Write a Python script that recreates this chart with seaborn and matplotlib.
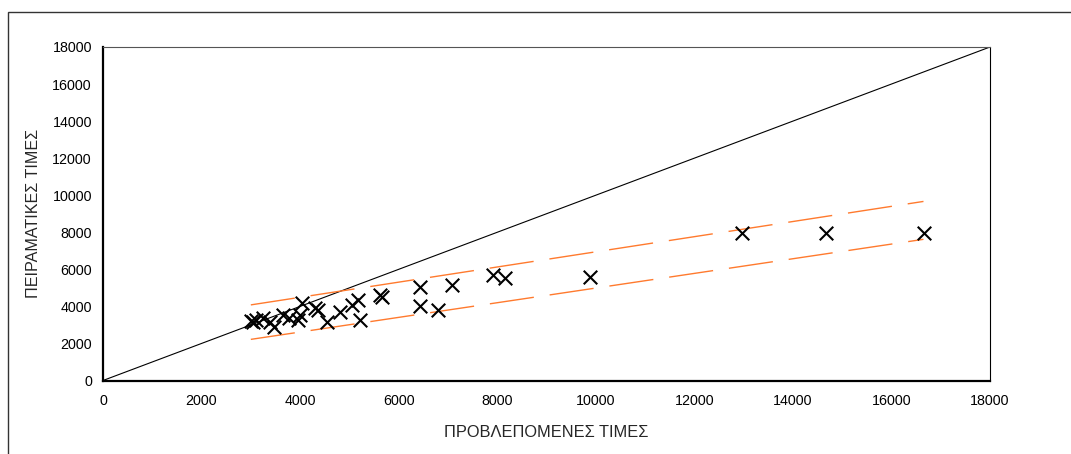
import matplotlib
matplotlib.use("Agg")
import matplotlib.pyplot as plt
from matplotlib.patches import Rectangle
import seaborn as sns
import pandas as pd

# Data
predicted = [3003, 3044, 3104, 3246, 3388, 3470, 3652, 3774, 3957, 3997,
             4038, 4301, 4362, 4545, 4809, 5052, 5174, 5214, 5620, 5661,
             6432, 6432, 6797, 7081, 7919, 8157, 9881, 12959, 14663, 16664]
measured = [3216, 3162, 3270, 3378, 3162, 2892, 3540, 3378, 3270, 3540,
            4189, 3919, 3810, 3162, 3702, 4081, 4351, 3270, 4621, 4513,
            5053, 4027, 3810, 5162, 5702, 5524, 5610, 7956, 7956, 7956]

band_x = [3000, 16650]
upper_band = [4081, 9665]
lower_band = [2220, 7620]
diag = [0, 18000]

xticks = list(range(0, 18001, 2000))
yticks = list(range(0, 18001, 2000))
xlabel = "ΠΡΟΒΛΕΠΟΜΕΝΕΣ ΤΙΜΕΣ"
ylabel = "ΠΕΙΡΑΜΑΤΙΚΕΣ ΤΙΜΕΣ"

sns.set_style("white")
plt.rcParams['font.family'] = ['Liberation Sans', 'DejaVu Sans']

fig = plt.figure(figsize=(10.71, 4.54), dpi=100)
ax = fig.add_axes([103/1071, 1-380.5/454, (990-103)/1071, (380.5-47)/454])

# outer chart border (cropped on right and bottom)
fig.patches.append(Rectangle((8/1071, -0.05), 1.1, 1-12/454+0.05,
                             transform=fig.transFigure, fill=False,
                             edgecolor='#333333', linewidth=1.0))

orange = '#FF7A2E'
ax.plot(diag, diag, color='black', linewidth=0.8, zorder=2)
ax.plot(band_x, upper_band, color=orange, linewidth=1.0,
        dashes=(32, 11.5), zorder=2)
ax.plot(band_x, lower_band, color=orange, linewidth=1.0,
        dashes=(32, 11.5), zorder=2)

df = pd.DataFrame({"pred": predicted, "meas": measured})
sns.scatterplot(data=df, x="pred", y="meas", marker='x', s=95,
                color='black', linewidth=1.5, ax=ax, zorder=3)

ax.set_xlim(0, 18000)
ax.set_ylim(0, 18000)
ax.set_xticks(xticks)
ax.set_yticks(yticks)
ax.tick_params(axis='both', labelsize=10.3, colors='black', length=4,
               width=0.8, direction='out', pad=4)
ax.tick_params(axis='x', pad=6)
ax.set_xlabel(xlabel, fontsize=11.8, labelpad=12)
ax.set_ylabel(ylabel, fontsize=11.6, labelpad=8)

for side in ['left', 'bottom']:
    ax.spines[side].set_linewidth(1.6)
    ax.spines[side].set_color('black')
for side in ['top', 'right']:
    ax.spines[side].set_linewidth(0.8)
    ax.spines[side].set_color('black')
ax.spines['top'].set_color('#555555')

fig.savefig("out.png", dpi=100)
